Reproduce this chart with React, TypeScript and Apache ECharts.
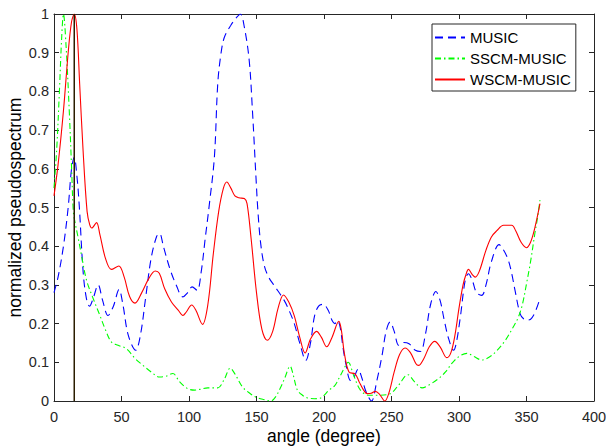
import React, { useEffect, useRef } from "react";
import * as echarts from "echarts";

const xTicks = [0, 50, 100, 150, 200, 250, 300, 350, 400];
const yTicks = [0, 0.1, 0.2, 0.3, 0.4, 0.5, 0.6, 0.7, 0.8, 0.9, 1];
const seriesNames = ["MUSIC", "SSCM-MUSIC", "WSCM-MUSIC"];

const musicAngles = [0, 3, 7, 10.5, 13, 15, 17, 18.7, 21.6, 24, 26.3, 29, 32.7, 36, 40, 44, 48.2, 51, 55, 60.5, 64, 68, 72, 76, 78.2, 81, 86, 90.5, 95.4, 99, 102.3, 106, 109, 112, 115, 118.8, 121.3, 123.7, 126.2, 131, 135, 138, 141, 144.6, 147, 149.6, 151, 153, 155.7, 159, 163, 170.5, 174, 178, 182, 186.5, 190, 193, 196, 199.3, 203, 206, 208, 210, 212, 214, 216, 219.7, 222, 225.3, 228, 231, 235.2, 239, 243, 246, 249, 252, 255.4, 259, 263, 267.7, 271.4, 275, 279, 282.9, 286, 289, 292.3, 296, 298, 301, 304.6, 307, 310, 313, 316.8, 320, 324, 329.7, 333, 336.5, 339, 341.5, 345.2, 348, 351.3, 354, 357, 360];
const musicValues = [0.28, 0.32, 0.4, 0.5, 0.6, 0.63, 0.58, 0.505, 0.333, 0.265, 0.245, 0.265, 0.3, 0.26, 0.221, 0.245, 0.288, 0.25, 0.17, 0.131, 0.17, 0.27, 0.37, 0.425, 0.433, 0.4, 0.34, 0.3, 0.269, 0.28, 0.295, 0.286, 0.333, 0.42, 0.506, 0.63, 0.82, 0.898, 0.94, 0.971, 0.99, 1.0, 0.966, 0.88, 0.75, 0.579, 0.493, 0.41, 0.351, 0.32, 0.299, 0.26, 0.235, 0.2, 0.15, 0.105, 0.15, 0.22, 0.245, 0.25, 0.235, 0.208, 0.2, 0.208, 0.19, 0.14, 0.1, 0.053, 0.06, 0.082, 0.06, 0.025, 0.0, 0.05, 0.118, 0.18, 0.204, 0.18, 0.144, 0.151, 0.148, 0.131, 0.128, 0.17, 0.25, 0.283, 0.26, 0.21, 0.161, 0.131, 0.15, 0.217, 0.312, 0.329, 0.31, 0.28, 0.273, 0.3, 0.36, 0.404, 0.39, 0.364, 0.33, 0.286, 0.226, 0.212, 0.209, 0.215, 0.235, 0.265];

const sscmAngles = [0, 2, 4, 5.7, 7, 8.9, 11.3, 13, 14.3, 15.5, 18, 20.4, 24.1, 29, 34, 38, 42.6, 47.5, 53.6, 60, 65.9, 72, 78.2, 83, 88, 93, 99, 104, 108, 113.9, 121.3, 126, 130.6, 134, 139.7, 145, 149.6, 155, 160.7, 164, 168, 171, 174.9, 177, 180.3, 184, 187.7, 193, 197.6, 203.7, 208, 211, 215, 217.9, 222, 227, 233.2, 240, 249, 255, 262.2, 267, 272.6, 278, 284.9, 290, 294.7, 300, 305.8, 311, 317, 323, 328, 334, 340, 344, 347, 350, 353, 356.2, 358, 360];
const sscmValues = [0.55, 0.65, 0.8, 0.94, 1.0, 0.92, 0.75, 0.605, 0.49, 0.463, 0.42, 0.376, 0.312, 0.265, 0.221, 0.185, 0.152, 0.144, 0.135, 0.11, 0.092, 0.075, 0.062, 0.064, 0.071, 0.05, 0.032, 0.028, 0.03, 0.034, 0.034, 0.055, 0.085, 0.07, 0.036, 0.02, 0.01, 0.004, 0.0, 0.01, 0.036, 0.06, 0.09, 0.07, 0.028, 0.015, 0.008, 0.006, 0.008, 0.028, 0.04, 0.058, 0.085, 0.1, 0.066, 0.028, 0.015, 0.015, 0.019, 0.04, 0.068, 0.05, 0.034, 0.042, 0.058, 0.075, 0.097, 0.115, 0.123, 0.115, 0.106, 0.115, 0.13, 0.155, 0.19, 0.217, 0.25, 0.303, 0.36, 0.433, 0.47, 0.519];

const wscmAngles = [0, 3, 7, 10.5, 13, 15, 17, 19, 21.5, 24.5, 26.5, 28, 31.5, 34, 38, 42.5, 48, 52, 56, 60, 65, 70, 75, 78, 82, 87, 92, 95.5, 98, 102, 105, 110, 114, 118, 122, 125.5, 128, 131, 134, 137, 141, 143, 146, 150, 154, 158, 162, 166, 170, 174, 178, 182, 186, 190, 194.5, 198, 202, 206, 211, 213, 215, 218.5, 223, 226, 229, 232, 235, 238, 241, 245, 248, 252, 256, 260, 264, 268, 270, 274, 278, 282, 286, 291, 294, 297, 300, 303, 305, 307, 310, 312, 315, 320, 324, 328, 333, 339, 342, 346, 350, 353, 356, 360];
const wscmValues = [0.53, 0.61, 0.75, 0.9, 0.98, 1.0, 0.96, 0.82, 0.65, 0.49, 0.455, 0.447, 0.461, 0.43, 0.37, 0.34, 0.349, 0.32, 0.27, 0.253, 0.28, 0.315, 0.336, 0.33, 0.29, 0.256, 0.235, 0.221, 0.23, 0.248, 0.235, 0.198, 0.25, 0.38, 0.49, 0.55, 0.566, 0.55, 0.53, 0.525, 0.523, 0.51, 0.42, 0.28, 0.185, 0.157, 0.18, 0.24, 0.274, 0.255, 0.22, 0.165, 0.124, 0.16, 0.18, 0.165, 0.14, 0.165, 0.206, 0.18, 0.125, 0.075, 0.07, 0.05, 0.03, 0.019, 0.02, 0.025, 0.018, 0.0, 0.02, 0.075, 0.12, 0.137, 0.125, 0.097, 0.092, 0.11, 0.14, 0.154, 0.14, 0.112, 0.125, 0.17, 0.24, 0.3, 0.325, 0.34, 0.326, 0.32, 0.335, 0.39, 0.424, 0.44, 0.454, 0.454, 0.44, 0.41, 0.396, 0.41, 0.445, 0.51];

const markerAngle = [15, 15];
const markerValues = [0, 1];

const pairs = (xs: number[], ys: number[]) => xs.map((x, i) => [x, ys[i]]);

const FONT = "'Liberation Sans', Arial, Helvetica, sans-serif";
const AXIS = "#262626";

export default function App() {
  const ref = useRef<HTMLDivElement>(null);
  useEffect(() => {
    if (!ref.current) return;
    const chart = echarts.init(ref.current, undefined, { renderer: "svg" });
    const tickCommon = { show: true, inside: true, length: 5, lineStyle: { color: AXIS, width: 1 } };
    const lineCommon = { show: true, onZero: false, lineStyle: { color: AXIS, width: 1 } };
    chart.setOption({
      animation: false,
      backgroundColor: "#ffffff",
      textStyle: { fontFamily: FONT },
      grid: { left: 54, top: 14, right: 12, bottom: 47, containLabel: false, outerBoundsMode: "none" },
      legend: {
        data: seriesNames,
        orient: "vertical",
        left: 432,
        top: 24,
        itemWidth: 30,
        itemHeight: 14,
        itemGap: 6,
        padding: [6, 5, 4, 2],
        backgroundColor: "#ffffff",
        borderColor: AXIS,
        borderWidth: 1,
        borderRadius: 0,
        itemStyle: { opacity: 0 },
        textStyle: { fontSize: 15, color: "#000000", fontFamily: FONT },
      },
      xAxis: [
        {
          type: "value",
          position: "bottom",
          min: xTicks[0],
          max: xTicks[xTicks.length - 1],
          interval: 50,
          name: "angle (degree)",
          nameLocation: "middle",
          nameGap: 26,
          nameMoveOverlap: false,
          nameTextStyle: { fontSize: 17.5, color: "#000000", fontFamily: FONT },
          axisLine: lineCommon,
          axisTick: tickCommon,
          axisLabel: { fontSize: 14.5, color: AXIS, margin: 8, fontFamily: FONT },
          splitLine: { show: false },
        },
        {
          type: "value",
          position: "top",
          min: xTicks[0],
          max: xTicks[xTicks.length - 1],
          interval: 50,
          axisLine: lineCommon,
          axisTick: tickCommon,
          axisLabel: { show: false },
          splitLine: { show: false },
        },
      ],
      yAxis: [
        {
          type: "value",
          position: "left",
          min: yTicks[0],
          max: yTicks[yTicks.length - 1],
          interval: 0.1,
          name: "normalized pseudospectrum",
          nameLocation: "middle",
          nameGap: 30,
          nameMoveOverlap: false,
          nameTextStyle: { fontSize: 17.5, color: "#000000", fontFamily: FONT },
          axisLine: lineCommon,
          axisTick: tickCommon,
          axisLabel: { fontSize: 14.5, color: AXIS, margin: 5, fontFamily: FONT },
          splitLine: { show: false },
        },
        {
          type: "value",
          position: "right",
          min: yTicks[0],
          max: yTicks[yTicks.length - 1],
          interval: 0.1,
          axisLine: lineCommon,
          axisTick: tickCommon,
          axisLabel: { show: false },
          splitLine: { show: false },
        },
      ],
      series: [
        {
          name: seriesNames[0],
          type: "line",
          data: pairs(musicAngles, musicValues),
          symbol: "none",
          smooth: 0.35,
          lineStyle: { color: "#0000ff", width: 1.1, type: [8, 5] },
          itemStyle: { color: "#0000ff" },
          z: 2,
        },
        {
          name: seriesNames[1],
          type: "line",
          data: pairs(sscmAngles, sscmValues),
          symbol: "none",
          smooth: 0.35,
          lineStyle: { color: "#00ff00", width: 1.1, type: [6, 3, 1.5, 3] },
          itemStyle: { color: "#00ff00" },
          z: 3,
        },
        {
          name: seriesNames[2],
          type: "line",
          data: pairs(wscmAngles, wscmValues),
          symbol: "none",
          smooth: 0.35,
          lineStyle: { color: "#ff0000", width: 1.1, type: "solid" },
          itemStyle: { color: "#ff0000" },
          z: 4,
        },
        {
          name: "marker",
          type: "line",
          data: pairs(markerAngle, markerValues),
          symbol: "none",
          lineStyle: { color: "#2b1d00", width: 1.5 },
          z: 5,
        },
      ],
    });
    return () => chart.dispose();
  }, []);
  return (
    <div
      ref={ref}
      style={{ position: "absolute", left: 0, top: 0, width: 606, height: 448 }}
    />
  );
}
